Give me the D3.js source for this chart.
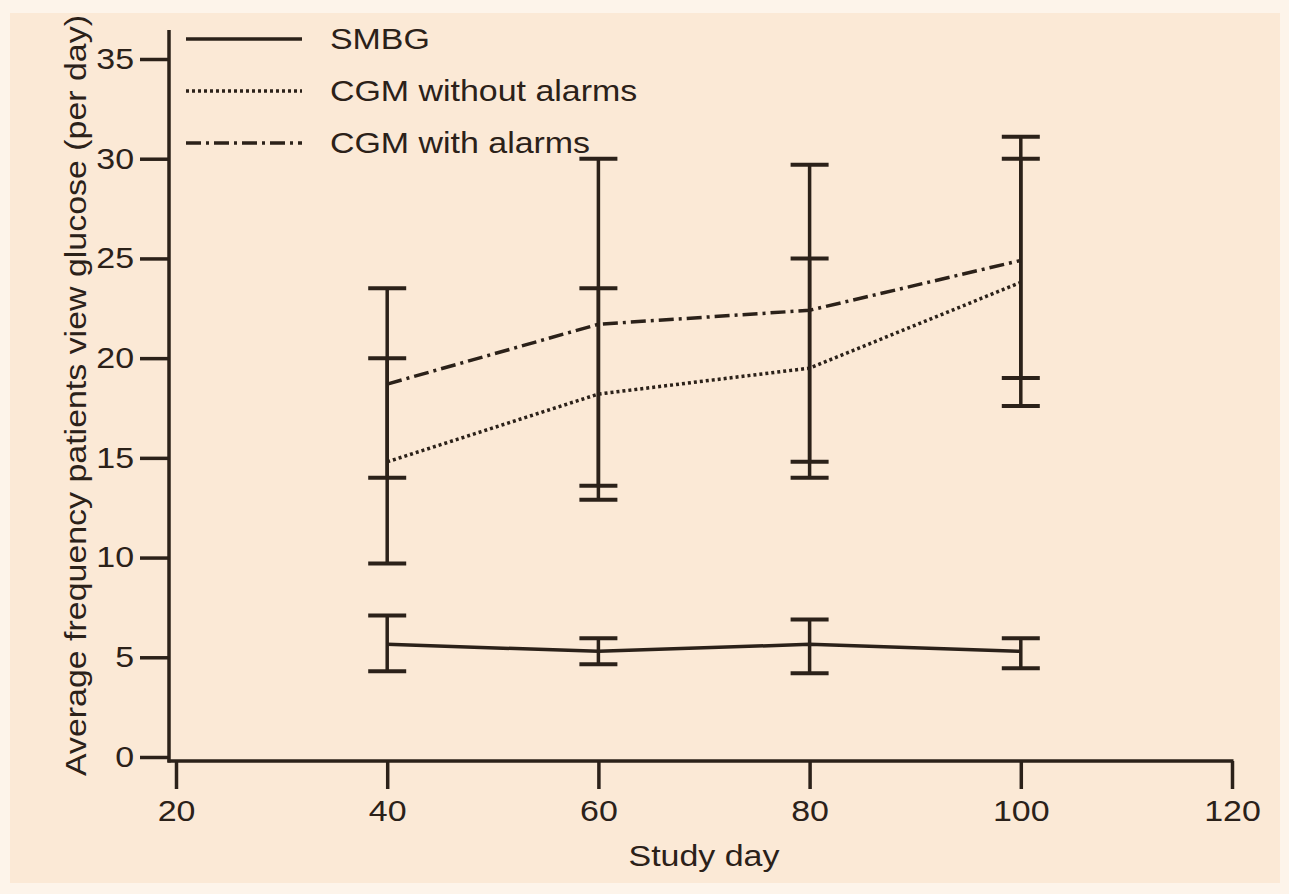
<!DOCTYPE html>
<html>
<head>
<meta charset="utf-8">
<script src="https://cdn.jsdelivr.net/npm/d3@7"></script>
<style>
  body { margin: 0; background: #fdf4ea; }
  svg text { font-family: "Liberation Sans", Arial, sans-serif; fill: #2b2119; }
  /* the original type is a bit wide, stretch it sideways */
  .wide-r { transform-box: fill-box; transform-origin: 100% 50%; transform: scaleX(1.17); }
  .wide-c { transform-box: fill-box; transform-origin: 50% 50%; transform: scaleX(1.17); }
  .wide-l { transform-box: fill-box; transform-origin: 0% 50%; transform: scaleX(1.17); }
</style>
</head>
<body>
<div id="chart"></div>
<script>
// data
const days = [40, 60, 80, 100];
const xTicks = [20, 40, 60, 80, 100, 120];
const yTicks = [0, 5, 10, 15, 20, 25, 30, 35];

const smbgMean = [5.65, 5.3, 5.65, 5.3];
const smbgLow = [4.3, 4.65, 4.2, 4.45];
const smbgHigh = [7.1, 5.95, 6.9, 5.95];

const cgmNoMean = [14.8, 18.2, 19.5, 23.8];
const cgmNoLow = [9.7, 12.9, 14.0, 17.6];
const cgmNoHigh = [20.0, 23.5, 25.0, 30.0];

const cgmAlMean = [18.7, 21.7, 22.4, 24.9];
const cgmAlLow = [14.0, 13.6, 14.8, 19.0];
const cgmAlHigh = [23.5, 30.0, 29.7, 31.1];

const seriesNames = ["SMBG", "CGM without alarms", "CGM with alarms"];

const ink = "#2b2119";
const W = 1289, H = 894;
const fs = 29;

const svg = d3.select("#chart").append("svg")
    .attr("width", W)
    .attr("height", H);

// beige panel
svg.append("rect")
    .attr("x", 10).attr("y", 13)
    .attr("width", W - 19).attr("height", 870)
    .attr("fill", "#fbe9d6");

// scales
const xScale = d3.scaleLinear().domain([20, 120]).range([176, 1232]);
const yScale = d3.scaleLinear().domain([0, 35]).range([757, 59]);

const axisX0 = 169;   // where the y axis sits
const axisY0 = 761;   // where the x axis sits

// axes
const yAxis = svg.append("g")
    .attr("transform", `translate(${axisX0},0)`)
    .call(d3.axisLeft(yScale).tickValues(yTicks).tickSize(29).tickPadding(6).tickSizeOuter(0));
yAxis.select(".domain").remove();
yAxis.selectAll(".tick text").attr("class", "wide-r");

const xAxis = svg.append("g")
    .attr("transform", `translate(0,${axisY0})`)
    .call(d3.axisBottom(xScale).tickValues(xTicks).tickSize(28).tickPadding(11).tickSizeOuter(0));
xAxis.select(".domain").remove();
xAxis.selectAll(".tick text").attr("class", "wide-c");

svg.selectAll(".tick line").attr("stroke", ink).attr("stroke-width", 3.5);
svg.selectAll(".tick text")
    .attr("font-size", fs)
    .attr("fill", ink);

svg.append("line")
    .attr("x1", axisX0).attr("x2", axisX0)
    .attr("y1", yScale(36.45)).attr("y2", axisY0 + 1.5)
    .attr("stroke", ink).attr("stroke-width", 3.5);
svg.append("line")
    .attr("x1", axisX0 - 1.5).attr("x2", xScale(120) + 1.5)
    .attr("y1", axisY0).attr("y2", axisY0)
    .attr("stroke", ink).attr("stroke-width", 3.5);

// labels
svg.append("text")
    .attr("class", "wide-c")
    .attr("x", (xScale(20) + xScale(120)) / 2)
    .attr("y", 856)
    .attr("dy", "0.35em")
    .attr("text-anchor", "middle")
    .attr("font-size", fs)
    .text("Study day");

svg.append("text")
    .attr("transform", `translate(86,${(yScale(36.45) + axisY0) / 2}) rotate(-90) scale(1.17,1)`)
    .attr("text-anchor", "middle")
    .attr("font-size", fs)
    .text("Average frequency patients view glucose (per day)");

// series
const series = [
    { name: seriesNames[0], mean: smbgMean, low: smbgLow, high: smbgHigh, dash: null },
    { name: seriesNames[1], mean: cgmNoMean, low: cgmNoLow, high: cgmNoHigh, dash: "3,3" },
    { name: seriesNames[2], mean: cgmAlMean, low: cgmAlLow, high: cgmAlHigh, dash: "15,5,3,5" }
];

const line = d3.line()
    .x(d => xScale(d.day))
    .y(d => yScale(d.v));

const capHalf = 19;

series.forEach(s => {
    const pts = days.map((day, i) => ({ day, v: s.mean[i], lo: s.low[i], hi: s.high[i] }));

    const eb = svg.append("g");
    eb.selectAll(".stem")
        .data(pts).enter().append("line")
        .attr("x1", d => xScale(d.day)).attr("x2", d => xScale(d.day))
        .attr("y1", d => yScale(d.lo)).attr("y2", d => yScale(d.hi))
        .attr("stroke", ink).attr("stroke-width", 3.5);
    eb.selectAll(".capLo")
        .data(pts).enter().append("line")
        .attr("x1", d => xScale(d.day) - capHalf).attr("x2", d => xScale(d.day) + capHalf)
        .attr("y1", d => yScale(d.lo)).attr("y2", d => yScale(d.lo))
        .attr("stroke", ink).attr("stroke-width", 4);
    eb.selectAll(".capHi")
        .data(pts).enter().append("line")
        .attr("x1", d => xScale(d.day) - capHalf).attr("x2", d => xScale(d.day) + capHalf)
        .attr("y1", d => yScale(d.hi)).attr("y2", d => yScale(d.hi))
        .attr("stroke", ink).attr("stroke-width", 4);

    svg.append("path")
        .datum(pts)
        .attr("d", line)
        .attr("fill", "none")
        .attr("stroke", ink)
        .attr("stroke-width", 3.5)
        .attr("stroke-dasharray", s.dash);
});

// legend
const legend = svg.append("g");
series.forEach((s, i) => {
    const ly = 39 + i * 52;
    legend.append("line")
        .attr("x1", 186).attr("x2", 302)
        .attr("y1", ly).attr("y2", ly)
        .attr("stroke", ink).attr("stroke-width", 3.5)
        .attr("stroke-dasharray", s.dash);
    legend.append("text")
        .attr("class", "wide-l")
        .attr("x", 330).attr("y", ly)
        .attr("dy", "0.35em")
        .attr("font-size", fs)
        .text(s.name);
});
</script>
</body>
</html>
